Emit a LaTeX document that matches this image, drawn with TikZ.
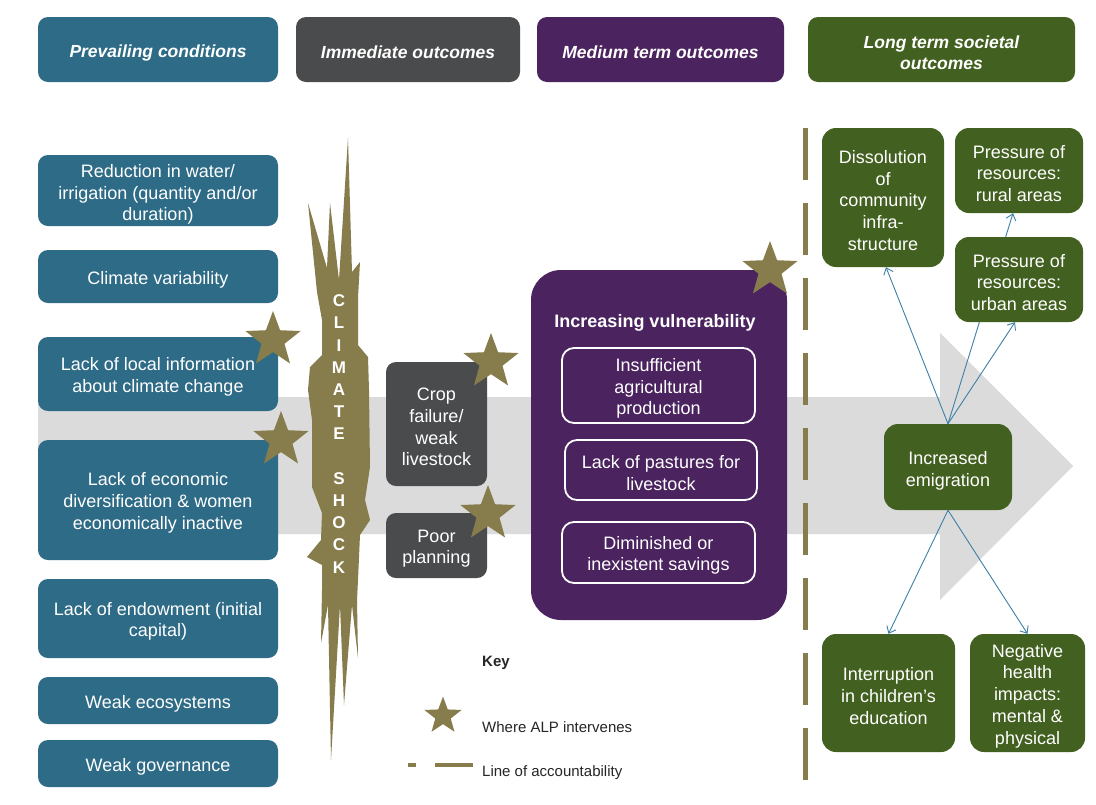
\documentclass[tikz,border=0pt]{standalone}
\usepackage{fontspec}
\setmainfont{Liberation Sans}
\usetikzlibrary{shapes,arrows.meta}
\definecolor{condblue}{HTML}{2E6B86}
\definecolor{immgray}{HTML}{4A4B4D}
\definecolor{medpurple}{HTML}{4A235F}
\definecolor{ltsgreen}{HTML}{42601F}
\definecolor{alpolive}{HTML}{877C4C}
\definecolor{bandgray}{HTML}{DBDBDB}
\definecolor{linkblue}{HTML}{3E80A6}
\newcommand{\lnup}{\rule{0pt}{19pt}}

\begin{document}
\begin{tikzpicture}[x=1pt,y=-1pt]
\tikzstyle{box}=[rectangle, rounded corners=10pt, inner sep=0pt, align=center, text=white, font=\fontsize{18}{21.7}\selectfont]
\tikzstyle{hdr}=[box, minimum height=65pt, font=\fontsize{17.5}{21}\selectfont\bfseries\itshape]
\tikzstyle{cond}=[box, fill=condblue, minimum width=240pt]
\tikzstyle{imm}=[box, fill=immgray, minimum width=101pt]
\tikzstyle{med}=[box, draw=white, line width=1.8pt, rounded corners=12pt, minimum width=193pt]
\tikzstyle{lts}=[box, fill=ltsgreen, rounded corners=14pt]
\tikzstyle{alp}=[star, star points=5, star point ratio=2.4, fill=alpolive, inner sep=0pt, minimum size=58pt]
\tikzstyle{link}=[linkblue, line width=0.9pt, -{Straight Barb[length=6pt,width=10pt]}]
\tikzstyle{key}=[font=\fontsize{15}{18}\selectfont, text=black!85, anchor=west, inner sep=0pt]

\useasboundingbox (0,0) rectangle (1096,804);
\fill[white] (0,0) rectangle (1096,804);

\fill[bandgray] (38,397) -- (940,397) -- (940,333) -- (1073,466) -- (940,600) -- (940,534) -- (38,534) -- cycle;

\fill[alpolive] (348,138) -- (352,272) -- (360,262) -- (358,298) -- (358,345) -- (368,357) -- (369,390) -- (370,467) -- (365,500) -- (370,520) -- (360,535) -- (358,580) -- (357,600) -- (358,658) -- (352,605) -- (344,705) -- (340,605) -- (331,760) -- (328,605) -- (321,643) -- (322,590) -- (322,565) -- (307,557) -- (321,540) -- (322,513) -- (312,487) -- (312,420) -- (308,390) -- (310,367) -- (322,355) -- (322,320) -- (317,292) -- (308,203) -- (327,268) -- (330,203) -- (339,280) -- cycle;
\node[font=\fontsize{17}{22.2}\selectfont\bfseries, text=white, align=center, inner sep=0pt] (shock) at (339,434) {C\\L\\I\\M\\A\\T\\E\\[22.2pt]S\\H\\O\\C\\K};

\node[hdr, fill=condblue, minimum width=240] (hA) at (158,49.5) {\lnup Prevailing conditions};
\node[hdr, fill=immgray, minimum width=224] (hB) at (408,49.5) {\lnup Immediate outcomes};
\node[hdr, fill=medpurple, minimum width=247] (hC) at (660.5,49.5) {\lnup Medium term outcomes};
\node[hdr, fill=ltsgreen, minimum width=267] (hD) at (941.5,49.5) {\lnup Long term societal\\outcomes};

\node[cond, minimum height=71] (c1) at (158,190.5) {\rule{0pt}{21pt}Reduction in water/\\irrigation (quantity and/or\\duration)};
\node[cond, minimum height=53] (c2) at (158,276.5) {\lnup Climate variability};
\node[cond, minimum height=74] (c3) at (158,374) {\lnup Lack of local information\\about climate change};
\node[cond, minimum height=120] (c4) at (158,500) {\lnup Lack of economic\\diversification \& women\\economically inactive};
\node[cond, minimum height=79] (c5) at (158,618.5) {\lnup Lack of endowment (initial\\capital)};
\node[cond, minimum height=47] (c6) at (158,700.5) {\lnup Weak ecosystems};
\node[cond, minimum height=47] (c7) at (158,763.5) {\lnup Weak governance};

\node[imm, minimum height=124] (crop) at (436.5,424) {\lnup Crop\\failure/\\weak\\livestock};
\node[imm, minimum height=65] (plan) at (436.5,545.5) {\lnup Poor\\planning};

\node[box, fill=medpurple, rounded corners=30pt, minimum width=256, minimum height=350] (vul) at (659,445) {};
\node[text=white, font=\fontsize{18}{21.7}\selectfont\bfseries] (vtitle) at (655,323) {Increasing vulnerability};
\node[med, minimum height=75] (m1) at (658.5,385.5) {\lnup Insufficient\\agricultural\\production};
\node[med, minimum width=192, minimum height=60] (m2) at (661,470) {\lnup Lack of pastures for\\livestock};
\node[med, minimum height=61] (m3) at (658.5,552.5) {\lnup Diminished or\\inexistent savings};

\node[alp] (s1) at (273,340) {};
\node[alp] (s2) at (281,440) {};
\node[alp] (s3) at (491,362) {};
\node[alp] (s4) at (488,514) {};
\node[alp] (s5) at (770,270) {};

\draw[alpolive, line width=5pt, dash pattern=on 52pt off 23pt] (805,128) -- (805,780);

\node[lts, minimum width=122, minimum height=139] (g1) at (883,197.5) {\lnup Dissolution\\of\\community\\infra-\\structure};
\node[lts, minimum width=128, minimum height=85] (g2) at (1019,170.5) {\lnup Pressure of\\resources:\\rural areas};
\node[lts, minimum width=128, minimum height=86] (g4) at (948,467) {\rule{0pt}{21pt}Increased\\emigration};
\draw[link] (g4.north) -- ([xshift=-6pt]g2.south);
\node[lts, minimum width=128, minimum height=85] (g3) at (1019,279.5) {\lnup Pressure of\\resources:\\urban areas};
\draw[link] (g4.north) -- ([xshift=3pt]g1.south);
\draw[link] (g4.north) -- ([xshift=-4pt]g3.south);
\node[lts, minimum width=133, minimum height=118] (g5) at (888.5,693) {\lnup Interruption\\in children’s\\education};
\node[lts, minimum width=115, minimum height=118] (g6) at (1027.5,693) {\lnup Negative\\health\\impacts:\\mental \&\\physical};
\draw[link] (g4.south) -- (g5.north);
\draw[link] (g4.south) -- (g6.north);

\node[key, font=\fontsize{15}{18}\selectfont\bfseries] (keyt) at (482,663) {Key};
\node[alp, minimum size=39] (ks) at (443,716) {};
\node[key] (kstar) at (482,727) {Where ALP intervenes};
\coordinate (kd1) at (408,765);
\coordinate (kd2) at (416,765);
\coordinate (kd3) at (435,765);
\coordinate (kd4) at (473,765);
\draw[alpolive, line width=4pt] (kd1) -- (kd2) (kd3) -- (kd4);
\node[key] (kline) at (482,773) {Line of accountability};
\end{tikzpicture}
\end{document}
